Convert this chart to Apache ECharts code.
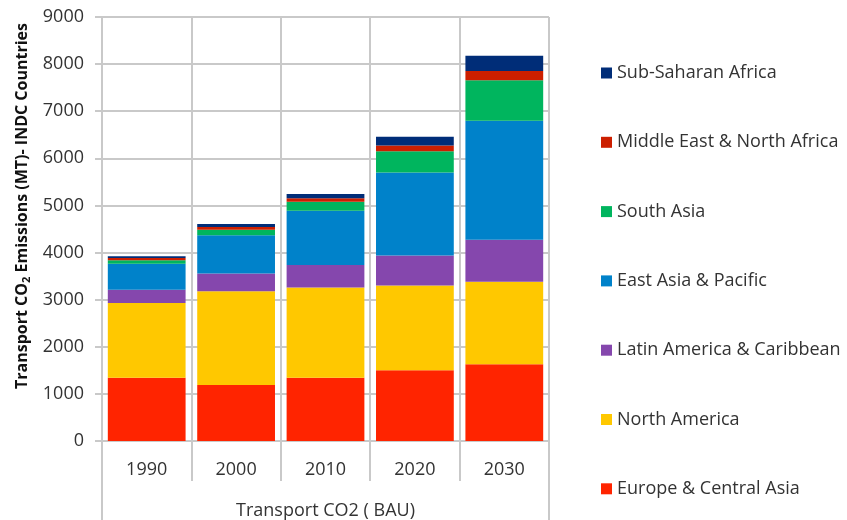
<!DOCTYPE html>
<html>
<head>
<meta charset="utf-8">
<script src="https://cdn.jsdelivr.net/npm/echarts@6/dist/echarts.min.js"></script>
<style>
html,body{margin:0;padding:0;background:#fff;}
#chart{width:847px;height:520px;}
</style>
</head>
<body>
<div id="chart"></div>
<script>
var categories = ['1990', '2000', '2010', '2020', '2030'];
var groupLabel = ['Transport CO2 ( BAU)'];
var europeCentralAsia = [1340, 1190, 1340, 1500, 1630];
var northAmerica = [1590, 1990, 1920, 1800, 1750];
var latinAmerica = [280, 375, 475, 635, 890];
var eastAsiaPacific = [550, 810, 1150, 1765, 2530];
var southAsia = [75, 120, 195, 450, 860];
var middleEastNorthAfrica = [50, 57, 72, 120, 195];
var subSaharanAfrica = [35, 64, 90, 190, 325];

var seriesNames = ['Europe & Central Asia', 'North America', 'Latin America & Caribbean', 'East Asia & Pacific', 'South Asia', 'Middle East & North Africa', 'Sub-Saharan Africa'];
var seriesValues = [europeCentralAsia, northAmerica, latinAmerica, eastAsiaPacific, southAsia, middleEastNorthAfrica, subSaharanAfrica];
var colors = ['#FF2400', '#FFC800', '#8547AD', '#0082CA', '#00B55E', '#CC1F00', '#002D78'];

var chart = echarts.init(document.getElementById('chart'));
var gridColor = '#C9C9C9';
var textColor = '#333333';
var font = 'Open Sans';

var series = seriesNames.map(function (n, i) {
  return {
    name: n,
    type: 'bar',
    stack: 'total',
    xAxisIndex: 0,
    yAxisIndex: 0,
    barCategoryGap: '13%',
    itemStyle: { color: colors[i] },
    data: seriesValues[i]
  };
});

chart.setOption({
  animation: false,
  color: colors,
  grid: { left: 102, right: 298, top: 17, bottom: 79, containLabel: false },
  legend: {
    orient: 'vertical',
    left: 596,
    top: 58,
    itemWidth: 11,
    itemHeight: 11,
    itemGap: 49.3,
    icon: 'rect',
    data: seriesNames.slice().reverse(),
    textStyle: { fontFamily: font, fontSize: 18, color: textColor, lineHeight: 20 }
  },
  xAxis: [{
    type: 'category',
    data: categories,
    position: 'bottom',
    axisLine: { show: true, lineStyle: { color: gridColor, width: 2 } },
    axisTick: { show: true, interval: 0, length: 40, lineStyle: { color: gridColor, width: 2 } },
    splitLine: { show: true, interval: 0, lineStyle: { color: gridColor, width: 2 } },
    axisLabel: { margin: 20, fontFamily: font, fontSize: 18, color: textColor }
  }, {
    type: 'category',
    data: groupLabel,
    position: 'bottom',
    axisLine: { show: false },
    axisTick: { show: true, interval: 0, length: 80, lineStyle: { color: gridColor, width: 2 } },
    splitLine: { show: false },
    axisLabel: { margin: 61, fontFamily: font, fontSize: 18, color: textColor }
  }],
  yAxis: {
    type: 'value',
    min: 0,
    max: 9000,
    interval: 1000,
    name: '{a|Transport CO}{s|2}{a| Emissions (MT)- INDC Countries}',
    nameLocation: 'middle',
    nameGap: 66,
    nameTextStyle: {
      padding: [0, 0, 0, 46],
      rich: {
        a: { fontFamily: font, fontSize: 16, fontWeight: 'bold', color: '#111' },
        s: { fontFamily: font, fontSize: 11, fontWeight: 'bold', color: '#111', verticalAlign: 'bottom', padding: [8, 0, 0, 0] }
      }
    },
    axisLine: { show: true, lineStyle: { color: gridColor, width: 2 } },
    axisTick: { show: true, length: 7, lineStyle: { color: gridColor, width: 2 } },
    splitLine: { show: true, lineStyle: { color: gridColor, width: 2 } },
    axisLabel: { margin: 18, fontFamily: font, fontSize: 18, color: textColor, formatter: function (v) { return String(v); } }
  },
  series: series
});
</script>
</body>
</html>
